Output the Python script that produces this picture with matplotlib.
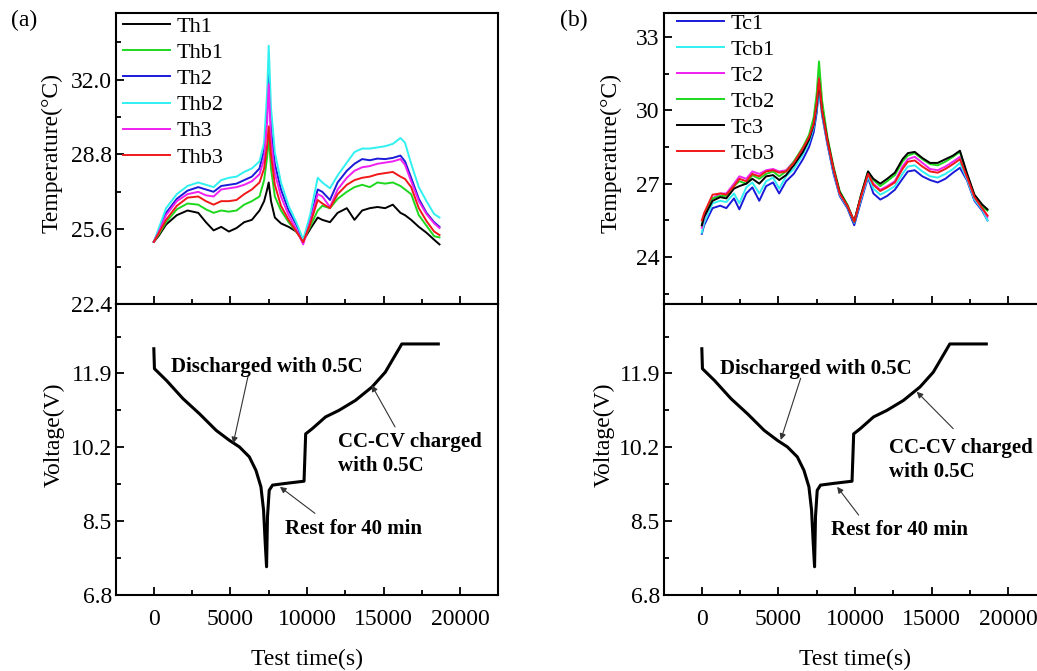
import numpy as np
import matplotlib
matplotlib.use('Agg')
import matplotlib.pyplot as plt
from matplotlib.ticker import MultipleLocator, FormatStrFormatter

plt.rcParams['font.family'] = ['Liberation Serif', 'DejaVu Serif']

# ---- panel (a): hot side temperatures ----
t_a = [0, 300, 800, 1500, 2200, 2900, 3400, 3900, 4400, 4900, 5400, 5900, 6400, 6900,
       7200, 7400, 7500, 7650, 7900, 8300, 8800, 9300, 9750, 10200, 10700, 11000, 11500,
       12000, 12600, 13100, 13600, 14100, 14600, 15100, 15600, 16100, 16400, 16800, 17300,
       17800, 18300, 18650]

th1 = [25.06, 25.3, 25.8, 26.2, 26.4, 26.3, 25.9, 25.55, 25.7, 25.5, 25.65, 25.9, 26.0, 26.4,
       26.8, 27.3, 27.6, 26.8, 26.1, 25.85, 25.7, 25.5, 25.1, 25.6, 26.1, 26.0, 25.9,
       26.3, 26.5, 26.0, 26.4, 26.5, 26.55, 26.5, 26.65, 26.3, 26.2, 26.0, 25.7,
       25.45, 25.15, 24.95]
thb1 = [25.06, 25.35, 25.9, 26.45, 26.7, 26.65, 26.45, 26.3, 26.4, 26.35, 26.4, 26.65, 26.8, 27.0,
        27.7, 28.7, 29.6, 28.2, 27.0, 26.4, 25.9, 25.5, 25.1, 25.7, 26.4, 26.6, 26.5,
        26.9, 27.2, 27.4, 27.5, 27.4, 27.6, 27.55, 27.6, 27.45, 27.3, 27.1, 26.2,
        25.75, 25.3, 25.25]
th2 = [25.06, 25.5, 26.3, 26.9, 27.25, 27.4, 27.3, 27.2, 27.45, 27.5, 27.55, 27.7, 27.85, 28.2,
       29.0, 30.8, 32.5, 29.9, 28.4, 27.3, 26.4, 25.8, 25.1, 26.0, 27.3, 27.2, 26.85,
       27.6, 28.1, 28.4, 28.6, 28.55, 28.62, 28.6, 28.65, 28.75, 28.5, 27.8, 26.9,
       26.3, 25.9, 25.7]
thb2 = [25.06, 25.6, 26.5, 27.1, 27.45, 27.6, 27.5, 27.4, 27.7, 27.8, 27.85, 28.05, 28.2, 28.5,
        29.3, 31.5, 33.45, 30.8, 28.9, 27.6, 26.6, 25.9, 25.15, 26.2, 27.8, 27.6, 27.35,
        27.9, 28.45, 28.9, 29.05, 29.05, 29.1, 29.15, 29.25, 29.5, 29.3, 28.4, 27.4,
        26.8, 26.25, 26.1]
th3 = [25.06, 25.45, 26.2, 26.8, 27.1, 27.2, 27.05, 27.0, 27.3, 27.35, 27.4, 27.5, 27.65, 27.95,
       28.6, 30.2, 31.8, 29.4, 28.0, 27.0, 26.2, 25.6, 24.95, 25.9, 27.1, 27.0, 26.55,
       27.3, 27.8, 28.1, 28.25, 28.3, 28.4, 28.45, 28.5, 28.6, 28.35, 27.65, 26.8,
       26.25, 25.85, 25.65]
thb3 = [25.06, 25.4, 26.0, 26.6, 26.95, 27.0, 26.8, 26.65, 26.8, 26.8, 26.85, 27.1, 27.3, 27.6,
        28.2, 29.2, 30.0, 28.8, 27.5, 26.6, 26.0, 25.5, 25.05, 25.8, 26.85, 26.7, 26.5,
        27.1, 27.5, 27.7, 27.8, 27.85, 27.95, 28.0, 28.05, 27.85, 27.75, 27.4, 26.5,
        25.95, 25.5, 25.35]

# ---- panel (b): cold side temperatures ----
t_b = [0, 150, 700, 1200, 1600, 2100, 2450, 2900, 3300, 3750, 4200, 4650, 5050, 5500, 6000,
       6600, 7000, 7300, 7500, 7650, 7850, 8200, 8600, 9000, 9500, 9950, 10400, 10850,
       11200, 11650, 12100, 12600, 13100, 13450, 13900, 14400, 14900, 15400, 15900, 16400,
       16850, 17300, 17800, 18300, 18650]

tc1 = [24.95, 25.3, 26.0, 26.1, 26.0, 26.4, 25.95, 26.6, 26.85, 26.3, 26.9, 27.05, 26.6, 27.1, 27.4,
       28.0, 28.5, 29.1, 29.9, 30.9, 29.8, 28.6, 27.4, 26.5, 26.0, 25.3, 26.3, 27.25,
       26.6, 26.35, 26.5, 26.75, 27.2, 27.5, 27.55, 27.3, 27.15, 27.05, 27.2, 27.45,
       27.65, 27.15, 26.3, 25.9, 25.5]
tcb1 = [25.0, 25.4, 26.2, 26.3, 26.25, 26.6, 26.2, 26.85, 27.05, 26.6, 27.1, 27.25, 26.8, 27.3, 27.6,
        28.2, 28.7, 29.3, 30.1, 31.0, 29.9, 28.7, 27.5, 26.55, 26.05, 25.4, 26.4, 27.3,
        26.8, 26.55, 26.7, 26.9, 27.4, 27.7, 27.75, 27.5, 27.3, 27.25, 27.4, 27.6,
        27.85, 27.2, 26.35, 25.95, 25.5]
tc2 = [25.2, 25.6, 26.4, 26.6, 26.6, 27.0, 27.3, 27.2, 27.5, 27.4, 27.55, 27.6, 27.5, 27.55, 27.9,
       28.4, 28.9, 29.5, 30.4, 31.45, 30.1, 28.8, 27.6, 26.6, 26.1, 25.45, 26.5, 27.4,
       27.0, 26.75, 26.9, 27.1, 27.7, 28.0, 28.1, 27.85, 27.6, 27.55, 27.7, 27.9,
       28.1, 27.3, 26.45, 26.0, 25.65]
tcb2 = [25.3, 25.7, 26.4, 26.5, 26.5, 26.9, 27.1, 27.0, 27.35, 27.2, 27.4, 27.5, 27.3, 27.5, 27.9,
        28.5, 29.0, 29.7, 30.7, 32.0, 30.4, 28.9, 27.7, 26.7, 26.15, 25.45, 26.55, 27.5,
        27.15, 26.9, 27.1, 27.35, 27.9, 28.15, 28.25, 28.0, 27.8, 27.75, 27.9, 28.1,
        28.3, 27.4, 26.5, 26.05, 25.9]
tc3 = [25.3, 25.65, 26.3, 26.45, 26.4, 26.8, 26.9, 27.0, 27.2, 27.0, 27.3, 27.35, 27.15, 27.35, 27.75,
       28.3, 28.8, 29.4, 30.2, 31.2, 30.0, 28.8, 27.6, 26.65, 26.1, 25.45, 26.55, 27.5,
       27.2, 27.0, 27.2, 27.45, 28.0, 28.25, 28.3, 28.05, 27.85, 27.85, 28.0, 28.15,
       28.35, 27.45, 26.55, 26.15, 25.95]
tcb3 = [25.5, 25.8, 26.55, 26.6, 26.55, 26.9, 27.2, 27.1, 27.4, 27.3, 27.5, 27.55, 27.45, 27.5, 27.85,
        28.45, 28.9, 29.45, 30.3, 31.3, 30.0, 28.75, 27.6, 26.6, 26.1, 25.45, 26.5, 27.4,
        26.95, 26.7, 26.85, 27.05, 27.6, 27.9, 27.95, 27.7, 27.5, 27.45, 27.6, 27.8,
        28.0, 27.3, 26.45, 26.0, 25.7]

# ---- voltage (same test for both panels) ----
t_v = [0, 40, 823, 1905, 2987, 4070, 4935, 5585, 6234, 6667, 6992, 7165, 7273, 7360,
       7420, 7533, 7749, 8616, 9806, 9914, 10345, 11211, 12079, 13162, 14245, 15110,
       16190, 18573]
volt = [12.47, 12.01, 11.74, 11.32, 10.97, 10.59, 10.36, 10.21, 9.98, 9.67, 9.29, 8.75,
        7.99, 7.45, 8.6, 9.21, 9.33, 9.37, 9.42, 10.51, 10.63, 10.90, 11.05, 11.28,
        11.59, 11.93, 12.58, 12.58]

labels_a = ['Th1', 'Thb1', 'Th2', 'Thb2', 'Th3', 'Thb3']
series_a = [th1, thb1, th2, thb2, th3, thb3]
colors_a = ['#000000', '#1ed81e', '#1a1ad8', '#30f0f0', '#f020f0', '#f01818']

labels_b = ['Tc1', 'Tcb1', 'Tc2', 'Tcb2', 'Tc3', 'Tcb3']
series_b = [tc1, tcb1, tc2, tcb2, tc3, tcb3]
colors_b = ['#1a1ad8', '#30f0f0', '#f020f0', '#1ed81e', '#000000', '#f01818']

W, H = 1037, 671
fig = plt.figure(figsize=(W / 100, H / 100), dpi=100)

def box(x, y, w, h):
    return [x / W, 1 - (y + h) / H, w / W, h / H]

TICK_FS = 17


def style(ax, xlabels):
    for s in ax.spines.values():
        s.set_linewidth(1.5)
    ax.set_xlim(-2470, 22470)
    ax.xaxis.set_major_locator(MultipleLocator(5000))
    ax.xaxis.set_minor_locator(MultipleLocator(2500))
    ax.tick_params(which='both', direction='in', width=1.3, labelsize=TICK_FS,
                   top=False, right=False, labelbottom=xlabels)
    ax.tick_params(which='major', length=6)
    ax.tick_params(which='minor', length=3.5)


def panel(x0, tt, series, labels, colors, ylim, ymaj, yfmt, tlab_x, vlab_x, leg_dx, leg_dy,
          letter, letter_x):
    ax_t = fig.add_axes(box(x0, 13, 382, 291))
    ax_v = fig.add_axes(box(x0, 304, 382, 291))

    for y, lab, c in zip(series, labels, colors):
        ax_t.plot(tt, y, color=c, lw=1.4, label=lab)
    style(ax_t, False)
    ax_t.set_ylim(*ylim)
    ax_t.yaxis.set_major_locator(MultipleLocator(ymaj))
    ax_t.yaxis.set_minor_locator(MultipleLocator(ymaj / 2))
    ax_t.yaxis.set_major_formatter(FormatStrFormatter(yfmt))
    ax_t.tick_params(axis='y', pad=3)
    ax_t.set_ylabel('Temperature(°C)', fontsize=TICK_FS)
    ax_t.yaxis.set_label_coords(tlab_x, 0.52)
    ax_t.legend(loc='upper left', bbox_to_anchor=(leg_dx, leg_dy), frameon=False,
                fontsize=16, handlelength=2.1, handletextpad=0.3, labelspacing=0.25,
                borderaxespad=0, borderpad=0)
    ax_t.text(letter_x, 1.012, letter, transform=ax_t.transAxes,
              fontsize=TICK_FS, ha='center', va='top')

    ax_v.plot(t_v, volt, color='black', lw=2.2)
    style(ax_v, True)
    ax_v.set_ylim(6.8, 13.5)
    ax_v.set_yticks([6.8, 8.5, 10.2, 11.9])
    ax_v.yaxis.set_minor_locator(MultipleLocator(0.85))
    ax_v.yaxis.set_major_formatter(FormatStrFormatter('%.1f'))
    ax_v.tick_params(axis='y', pad=3)
    ax_v.tick_params(axis='x', pad=10)
    ax_v.set_ylabel('Voltage(V)', fontsize=TICK_FS)
    ax_v.yaxis.set_label_coords(vlab_x, 0.55)
    ax_v.set_xlabel('Test time(s)', fontsize=TICK_FS, labelpad=14)
    return ax_t, ax_v


arrow = dict(arrowstyle='-|>', color='#333333', lw=0.8, mutation_scale=9, shrinkA=0, shrinkB=0)
afont = dict(fontsize=15, fontweight='bold')

ax_ta, ax_va = panel(116, t_a, series_a, labels_a, colors_a, (22.4, 34.85), 3.2, '%.1f',
                     -0.14, -0.135, 0.018, 0.988, '(a)', -0.24)
ax_va.annotate('', xy=(5184, 10.29), xytext=(6164, 11.86), arrowprops=arrow)
ax_va.text(7405, 12.05, 'Discharged with 0.5C', ha='center', va='center', **afont)
ax_va.annotate('', xy=(14222, 11.63), xytext=(15747, 10.67), arrowprops=arrow)
ax_va.text(12045, 10.04, 'CC-CV charged\nwith 0.5C', ha='left', va='center',
           linespacing=1.25, **afont)
ax_va.annotate('', xy=(8233, 9.29), xytext=(10520, 8.68), arrowprops=arrow)
ax_va.text(13024, 8.33, 'Rest for 40 min', ha='center', va='center', **afont)

ax_tb, ax_vb = panel(664, t_b, series_b, labels_b, colors_b, (22.08, 33.98), 3, '%d',
                     -0.11, -0.128, 0.034, 1.0, '(b)', -0.235)
ax_vb.annotate('', xy=(5153, 10.37), xytext=(6452, 11.79), arrowprops=arrow)
ax_vb.text(7426, 12.01, 'Discharged with 0.5C', ha='center', va='center', **afont)
ax_vb.annotate('', xy=(14029, 11.48), xytext=(16411, 10.63), arrowprops=arrow)
ax_vb.text(12232, 9.91, 'CC-CV charged\nwith 0.5C', ha='left', va='center',
           linespacing=1.25, **afont)
ax_vb.annotate('', xy=(8833, 9.29), xytext=(10240, 8.64), arrowprops=arrow)
ax_vb.text(12882, 8.30, 'Rest for 40 min', ha='center', va='center', **afont)

fig.savefig('out.png', dpi=100)
